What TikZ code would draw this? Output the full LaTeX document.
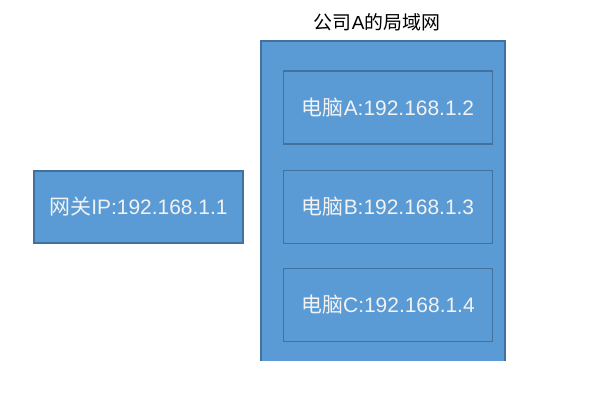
\documentclass[tikz,border=0pt]{standalone}
\usepackage{fontspec}
\setmainfont{Liberation Sans}
\newfontfamily\cjk{Noto Sans CJK SC}
\definecolor{boxfill}{HTML}{5B9BD5}
\definecolor{boxline}{HTML}{41719C}
\definecolor{txt}{HTML}{F2F2F2}
\begin{document}
\begin{tikzpicture}[x=0.75pt,y=-0.75pt,
  box/.style={draw=boxline,line width=1.3pt,fill=boxfill,text=txt,inner sep=0pt,font=\fontsize{15.7}{18}\selectfont}]
\useasboundingbox (0,0) rectangle (590,405);
% outer LAN area (bottom edge cut off)
\fill[boxfill] (261,41) rectangle (505,361);
\draw[boxline,line width=1.3pt] (261,361) -- (261,41) -- (505,41) -- (505,361);
\node[font=\fontsize{14.2}{17}\selectfont] (title) at (377,22) {{\cjk 公司}A{\cjk 的局域网}};
\node[box,minimum width=209*0.75pt,minimum height=73*0.75pt] (pcA) at (388,107.5) {{\cjk 电脑}A:192.168.1.2};
\node[box,minimum width=209*0.75pt,minimum height=73*0.75pt] (pcB) at (388,207) {{\cjk 电脑}B:192.168.1.3};
\node[box,minimum width=209*0.75pt,minimum height=73*0.75pt] (pcC) at (388,305) {{\cjk 电脑}C:192.168.1.4};
\node[box,minimum width=209*0.75pt,minimum height=72*0.75pt] (gw) at (138.5,207) {{\cjk 网关}IP:192.168.1.1};
\end{tikzpicture}
\end{document}
